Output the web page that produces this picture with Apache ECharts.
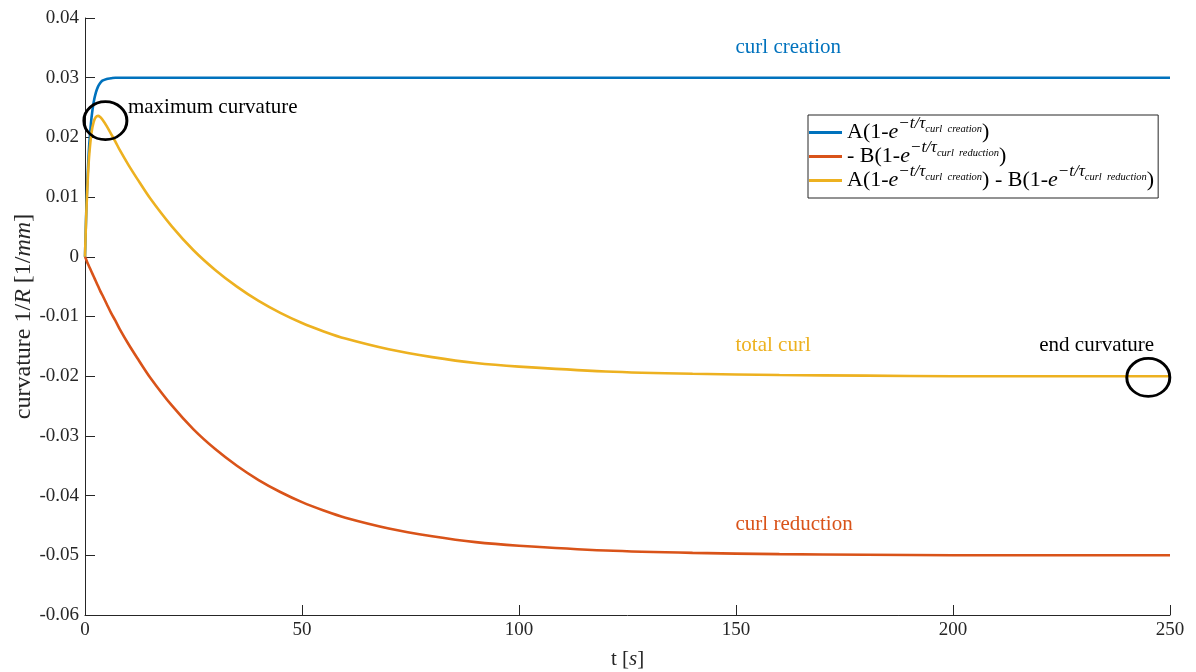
<!DOCTYPE html>
<html>
<head>
<meta charset="utf-8">
<script src="https://cdn.jsdelivr.net/npm/echarts@6/dist/echarts.min.js"></script>
<style>
  html, body { margin: 0; padding: 0; background: #fff; }
  #chart { width: 1196px; height: 672px; }
</style>
</head>
<body>
<div id="chart"></div>
<script>
// time samples [s]
const timeS = [0, 0.25, 0.5, 0.75, 1, 1.5, 2, 2.5, 3, 3.5, 4, 5, 6, 7, 8, 10, 12, 15, 20, 25,
  30, 35, 40, 45, 50, 55, 60, 70, 80, 90, 100, 120, 140, 160, 180, 200, 225, 250];

// curl creation  A(1-e^(-t/tau_c))
const curlCreation = [0, 0.0066, 0.0118, 0.0158, 0.0190, 0.0233, 0.0259, 0.0275, 0.0285, 0.0291,
  0.0295, 0.0298, 0.0299, 0.0300, 0.0300, 0.0300, 0.0300, 0.0300, 0.0300, 0.0300,
  0.0300, 0.0300, 0.0300, 0.0300, 0.0300, 0.0300, 0.0300, 0.0300, 0.0300, 0.0300,
  0.0300, 0.0300, 0.0300, 0.0300, 0.0300, 0.0300, 0.0300, 0.0300];

// curl reduction  -B(1-e^(-t/tau_r))
const curlReduction = [0, -0.0004, -0.0009, -0.0013, -0.0017, -0.0025, -0.0033, -0.0041, -0.0049, -0.0057,
  -0.0064, -0.0079, -0.0094, -0.0107, -0.0121, -0.0146, -0.0169, -0.0202, -0.0249, -0.0289,
  -0.0322, -0.0350, -0.0374, -0.0394, -0.0411, -0.0425, -0.0437, -0.0455, -0.0468, -0.0478,
  -0.0484, -0.0492, -0.0496, -0.0498, -0.0499, -0.0500, -0.0500, -0.0500];

// total curl
const totalCurl = [0, 0.0062, 0.0109, 0.0146, 0.0173, 0.0208, 0.0226, 0.0234, 0.0236, 0.0234,
  0.0230, 0.0219, 0.0206, 0.0193, 0.0179, 0.0154, 0.0131, 0.0098, 0.0051, 0.0011,
  -0.0022, -0.0050, -0.0074, -0.0094, -0.0111, -0.0125, -0.0137, -0.0155, -0.0168, -0.0178,
  -0.0184, -0.0192, -0.0196, -0.0198, -0.0199, -0.0200, -0.0200, -0.0200];

// axis ranges [min, max, step]
const xRange = [0, 250, 50];
const yRange = [-0.06, 0.04, 0.01];

// series names and their typeset legend entries
const seriesNames = [
  'A(1-e^(-t/τ curl creation))',
  '- B(1-e^(-t/τ curl reduction))',
  'A(1-e^(-t/τ curl creation)) - B(1-e^(-t/τ curl reduction))'
];
const legendMarkup = [
  '{n|A(1-}{i|e}{sp|−t/τ}{ss|curl  creation}{n|)}',
  '{n|- B(1-}{i|e}{sp|−t/τ}{ss|curl  reduction}{n|)}',
  '{n|A(1-}{i|e}{sp|−t/τ}{ss|curl  creation}{n|) - B(1-}{i|e}{sp|−t/τ}{ss|curl  reduction}{n|)}'
];

// text annotations (data coordinates)
const noteText = ['curl creation', 'total curl', 'curl reduction', 'maximum curvature', 'end curvature'];
const noteAt = [[150, 0.035], [150, -0.015], [150, -0.045], [10, 0.025], [220, -0.015]];
const noteColor = ['#0072BD', '#EDB120', '#D95319', '#000000', '#000000'];

// highlighted points (data coordinates)
const circleAt = [[4.7, 0.0228], [245, -0.0202]];

const lineColors = ['#0072BD', '#D95319', '#EDB120'];
const FONT = 'Liberation Serif';
const AXIS_COLOR = '#262626';

const zip = (xs, ys) => xs.map((x, i) => [x, ys[i]]);
const curves = [curlCreation, curlReduction, totalCurl];

const lineSeries = curves.map((vals, k) => ({
  name: seriesNames[k],
  type: 'line',
  data: zip(timeS, vals),
  symbol: 'none',
  smooth: 0.3,
  lineStyle: { color: lineColors[k], width: 2.6 },
  itemStyle: { color: lineColors[k] },
  z: 2
}));

const noteSeries = {
  name: 'notes',
  type: 'scatter',
  symbol: 'circle',
  symbolSize: 1,
  itemStyle: { color: 'rgba(0,0,0,0)', opacity: 1 },
  silent: true,
  z: 4,
  data: noteAt.map((p, i) => ({
    value: p,
    label: {
      show: true,
      position: [0, 0],
      align: 'left',
      verticalAlign: 'middle',
      formatter: noteText[i],
      color: noteColor[i],
      fontFamily: FONT,
      fontSize: 21
    }
  }))
};

const circleSeries = {
  name: 'circles',
  type: 'scatter',
  symbol: 'path://M0,-50A50,50,0,1,1,0,50A50,50,0,1,1,0,-50Z',
  symbolSize: [43, 38],
  itemStyle: { color: 'rgba(0,0,0,0)', borderColor: '#000', borderWidth: 2.8, opacity: 1 },
  silent: true,
  z: 5,
  data: circleAt
};

const chart = echarts.init(document.getElementById('chart'), null, { renderer: 'canvas' });

chart.setOption({
  animation: false,
  backgroundColor: '#ffffff',
  textStyle: { fontFamily: FONT },
  grid: { left: 85, right: 26, top: 18, bottom: 57, containLabel: false, outerBoundsMode: 'none' },
  legend: {
    data: seriesNames,
    orient: 'vertical',
    left: 808,
    top: 115,
    padding: [0, 4, 0, 1],
    itemGap: -11,
    itemWidth: 33,
    itemHeight: 3,
    icon: 'rect',
    backgroundColor: '#ffffff',
    borderColor: AXIS_COLOR,
    borderWidth: 1,
    borderRadius: 0,
    selectedMode: false,
    formatter: name => legendMarkup[seriesNames.indexOf(name)],
    textStyle: {
      fontFamily: FONT,
      color: '#000',
      rich: {
        n: { fontFamily: FONT, fontSize: 22, color: '#000', lineHeight: 22 },
        i: { fontFamily: FONT, fontSize: 22, fontStyle: 'italic', color: '#000', lineHeight: 22 },
        sp: { fontFamily: FONT, fontSize: 17, fontStyle: 'italic', color: '#000', lineHeight: 10, padding: [0, 0, 18, 0] },
        ss: { fontFamily: FONT, fontSize: 10.5, fontStyle: 'italic', color: '#000', lineHeight: 9, padding: [0, 0, 7, 0] }
      }
    }
  },
  xAxis: {
    type: 'value',
    min: xRange[0],
    max: xRange[1],
    interval: xRange[2],
    name: '{n|t }{n|[}{i|s}{n|]}',
    nameLocation: 'middle',
    nameGap: 34,
    nameMoveOverlap: false,
    nameTextStyle: {
      rich: {
        n: { fontFamily: FONT, fontSize: 21, color: AXIS_COLOR },
        i: { fontFamily: FONT, fontSize: 21, fontStyle: 'italic', color: AXIS_COLOR }
      }
    },
    axisLine: { onZero: false, lineStyle: { color: AXIS_COLOR, width: 1 } },
    axisTick: { inside: true, length: 10, lineStyle: { color: AXIS_COLOR } },
    axisLabel: { color: AXIS_COLOR, fontFamily: FONT, fontSize: 19, margin: 6 },
    splitLine: { show: false }
  },
  yAxis: {
    type: 'value',
    min: yRange[0],
    max: yRange[1],
    interval: yRange[2],
    name: '{n|curvature 1/}{i|R}{n| [1/}{i|mm}{n|]}',
    nameLocation: 'middle',
    nameRotate: 90,
    nameGap: 49,
    nameMoveOverlap: false,
    nameTextStyle: {
      rich: {
        n: { fontFamily: FONT, fontSize: 24, color: AXIS_COLOR },
        i: { fontFamily: FONT, fontSize: 24, fontStyle: 'italic', color: AXIS_COLOR }
      }
    },
    axisLine: { onZero: false, lineStyle: { color: AXIS_COLOR, width: 1 } },
    axisTick: { inside: true, length: 10, lineStyle: { color: AXIS_COLOR } },
    axisLabel: {
      color: AXIS_COLOR,
      fontFamily: FONT,
      fontSize: 19,
      margin: 6,
      formatter: v => {
        const r = Math.round(v * 100) / 100;
        return r === 0 ? '0' : r.toFixed(2);
      }
    },
    splitLine: { show: false }
  },
  series: [...lineSeries, noteSeries, circleSeries]
});
</script>
</body>
</html>
